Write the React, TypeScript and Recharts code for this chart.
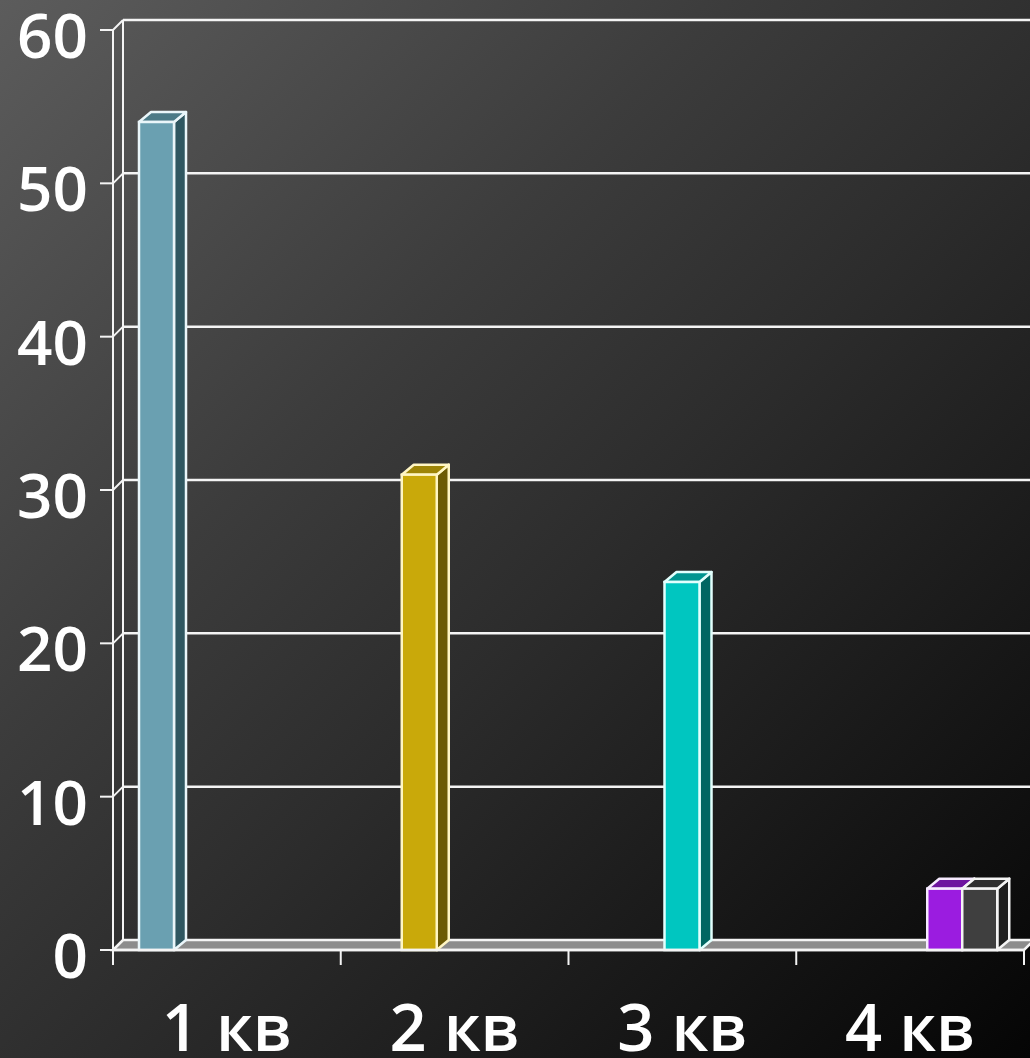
import React from "react";
import { BarChart, Bar, XAxis, YAxis, CartesianGrid } from "recharts";

const CATEGORIES = ["1 кв", "2 кв", "3 кв", "4 кв"];
const SERIES_A = [54, null, null, null];
const SERIES_B = [null, 31, null, null];
const SERIES_C = [null, null, 24, null];
const SERIES_D = [null, null, null, 4];
const SERIES_E = [null, null, null, 4];
const Y_TICKS = [0, 10, 20, 30, 40, 50, 60];

const data = CATEGORIES.map((c, i) => ({
  cat: c,
  a: SERIES_A[i],
  b: SERIES_B[i],
  c: SERIES_C[i],
  d: SERIES_D[i],
  e: SERIES_E[i],
}));

const W = 1030;
const H = 1058;
const MARGIN = { top: 30, right: 6, left: 0, bottom: 0 };
const Y_W = 113;
const X_H = 108;
const BAND = (W - Y_W - MARGIN.right) / CATEGORIES.length;
const DX = 10;
const DY = 10;
const LINE = "#f4f4f4";
const FONT = "'Open Sans', 'DejaVu Sans', sans-serif";

const makeShape = (front: string, top: string, side: string, stroke: string) => (props: any) => {
  const { x, y, width, height, value } = props;
  if (value == null || !(height > 0)) return null;
  const bx = 12;
  const by = 10;
  return (
    <g>
      <polygon
        points={`${x + width},${y} ${x + width + bx},${y - by} ${x + width + bx},${y + height - by} ${x + width},${y + height}`}
        fill={side}
        stroke={stroke}
        strokeWidth={2.5}
        strokeLinejoin="round"
      />
      <polygon
        points={`${x},${y} ${x + bx},${y - by} ${x + width + bx},${y - by} ${x + width},${y}`}
        fill={top}
        stroke={stroke}
        strokeWidth={2.5}
        strokeLinejoin="round"
      />
      <rect x={x} y={y} width={width} height={height} fill={front} stroke={stroke} strokeWidth={2.5} />
    </g>
  );
};

const gridLine = (props: any) => {
  const { x1, x2, y1, y, height, index } = props;
  const bottom = y + height;
  const isBottom = Math.abs(y1 - bottom) < 1;
  const isTop = Math.abs(y1 - y) < 1;
  return (
    <g key={`g-${index}`}>
      {isBottom ? (
        <polygon
          points={`${x1},${y1} ${x2},${y1} ${x2 + DX},${y1 - DY} ${x1 + DX},${y1 - DY}`}
          fill="#8c8c8c"
          stroke={LINE}
          strokeWidth={2.5}
        />
      ) : (
        <line x1={x1 + DX} y1={y1 - DY} x2={x2 + 20} y2={y1 - DY} stroke={LINE} strokeWidth={2.5} />
      )}
      <line x1={x1} y1={y1} x2={x1 + DX} y2={y1 - DY} stroke={LINE} strokeWidth={2} />
      {isTop ? (
        <g>
          <line x1={x1 + DX} y1={y1 - DY} x2={x1 + DX} y2={bottom - DY} stroke={LINE} strokeWidth={2} />
          <line x1={x1} y1={y1} x2={x1} y2={bottom + 15} stroke={LINE} strokeWidth={2} />
        </g>
      ) : null}
    </g>
  );
};

const YTick = (props: any) => {
  const { y, payload } = props;
  return (
    <g>
      <line x1={100} y1={y} x2={Y_W} y2={y} stroke={LINE} strokeWidth={2} />
      <text x={88} y={y + 28} textAnchor="end" fill="#ffffff" fontSize={62} fontFamily={FONT} fontWeight={600}>
        {payload.value}
      </text>
    </g>
  );
};

const XTick = (props: any) => {
  const { x, payload, index } = props;
  const left = x - BAND / 2;
  const right = x + BAND / 2;
  const base = H - MARGIN.bottom - X_H;
  return (
    <g>
      <line x1={left} y1={base} x2={left} y2={base + 15} stroke={LINE} strokeWidth={2} />
      {index === CATEGORIES.length - 1 ? (
        <line x1={right} y1={base} x2={right} y2={base + 15} stroke={LINE} strokeWidth={2} />
      ) : null}
      <text x={x} y={H - 7} textAnchor="middle" fill="#ffffff" fontSize={65} fontFamily={FONT} fontWeight={600}>
        {payload.value}
      </text>
    </g>
  );
};

export default function App() {
  return (
    <div
      style={{
        width: W,
        height: H,
        background: "linear-gradient(135deg, #5c5c5c 0%, #3c3c3c 35%, #2c2c2c 55%, #050505 100%)",
        overflow: "hidden",
      }}
    >
      <style>{"body{margin:0}"}</style>
      <BarChart width={W} height={H} data={data} margin={MARGIN} barCategoryGap={26} barGap={0}>
        <CartesianGrid vertical={false} horizontal={gridLine} stroke={LINE} />
        <YAxis
          domain={[0, 60]}
          ticks={Y_TICKS}
          width={Y_W}
          axisLine={false}
          tickLine={false}
          tick={<YTick />}
          interval={0}
        />
        <XAxis dataKey="cat" height={X_H} axisLine={{ stroke: LINE, strokeWidth: 2.5 }} tickLine={false} tick={<XTick />} interval={0} />
        <Bar dataKey="a" fill="#6aa0b1" isAnimationActive={false} shape={makeShape("#6aa0b1", "#4b7a87", "#2f5761", "#eaf6fa")} />
        <Bar dataKey="b" fill="#c9a90a" isAnimationActive={false} shape={makeShape("#c9a90a", "#9e8507", "#6c5a04", "#fff6c4")} />
        <Bar dataKey="c" fill="#00c6c0" isAnimationActive={false} shape={makeShape("#00c6c0", "#009590", "#006662", "#e2fffd")} />
        <Bar dataKey="d" fill="#9b1ce0" isAnimationActive={false} shape={makeShape("#9b1ce0", "#6e149f", "#4d0e70", "#f6eaff")} />
        <Bar dataKey="e" fill="#3f3f3f" isAnimationActive={false} shape={makeShape("#3f3f3f", "#2e2e2e", "#1f1f1f", "#f4f4f4")} />
      </BarChart>
    </div>
  );
}
